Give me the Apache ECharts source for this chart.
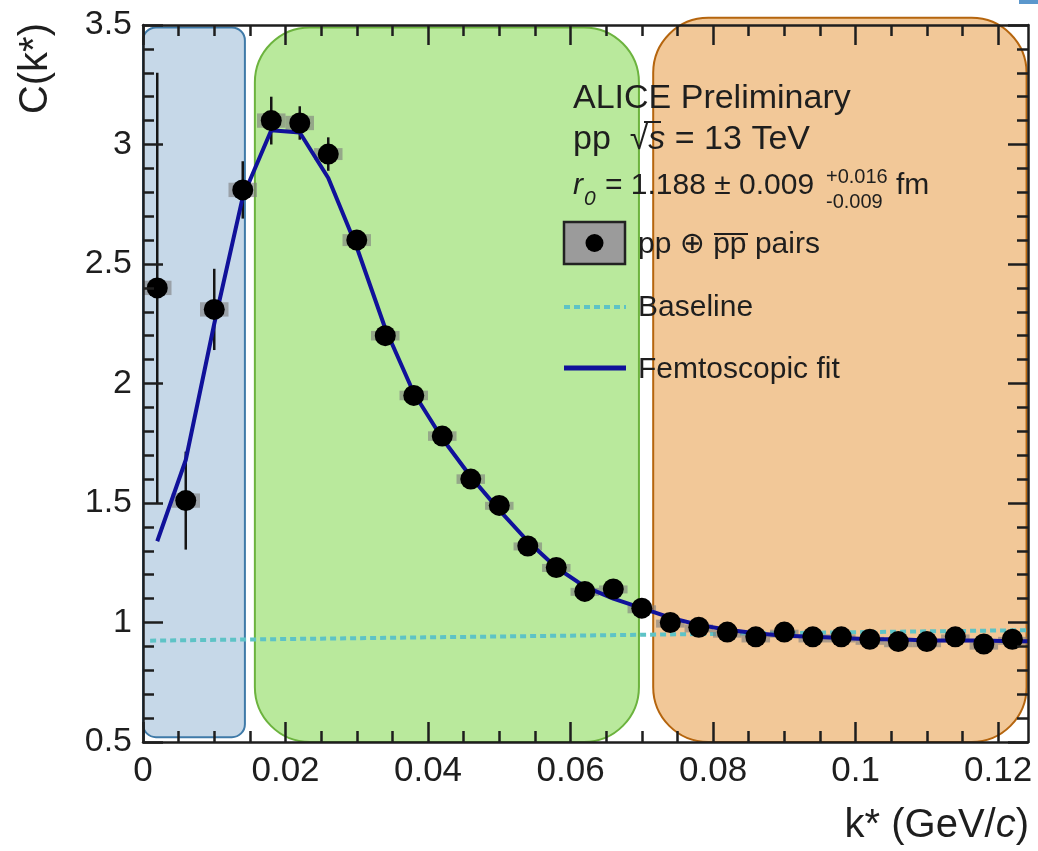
<!DOCTYPE html>
<html><head><meta charset="utf-8">
<script src="https://cdn.jsdelivr.net/npm/echarts@6/dist/echarts.min.js"></script>
<style>html,body{margin:0;padding:0;background:#fff}#chart{width:1038px;height:851px}</style>
</head><body><div id="chart"></div>
<script>
// ---------- data ----------
const kStar   = [0.002,0.006,0.010,0.014,0.018,0.022,0.026,0.030,0.034,0.038,0.042,0.046,0.050,0.054,0.058,0.062,0.066,0.070,0.074,0.078,0.082,0.086,0.090,0.094,0.098,0.102,0.106,0.110,0.114,0.118,0.122];
const cValues = [2.40,1.51,2.31,2.81,3.10,3.09,2.96,2.60,2.20,1.95,1.78,1.60,1.49,1.32,1.23,1.13,1.14,1.06,1.00,0.98,0.96,0.94,0.96,0.94,0.94,0.93,0.92,0.92,0.94,0.91,0.93];
const statErr = [0.90,0.205,0.17,0.12,0.10,0.07,0.07,0.04,0.03,0.025,0.02,0.02,0.02,0.015,0.015,0.015,0.015,0.01,0.01,0.01,0.01,0.01,0.01,0.01,0.01,0.01,0.01,0.01,0.01,0.01,0.01];
const sysErr  = [0.03,0.03,0.03,0.03,0.03,0.03,0.025,0.025,0.02,0.02,0.02,0.02,0.015,0.015,0.015,0.015,0.015,0.012,0.012,0.012,0.01,0.01,0.01,0.01,0.01,0.01,0.01,0.01,0.01,0.01,0.01];
const binHalfWidth = 0.002;
const fitK = [0.002,0.006,0.010,0.014,0.018,0.022,0.026,0.030,0.034,0.038,0.042,0.046,0.050,0.054,0.058,0.062,0.066,0.070,0.074,0.078,0.082,0.086,0.090,0.094,0.098,0.102,0.106,0.110,0.114,0.118,0.122,0.1242];
const fitC = [1.34,1.68,2.25,2.78,3.06,3.05,2.86,2.57,2.23,1.96,1.77,1.61,1.47,1.34,1.23,1.15,1.10,1.06,1.02,0.99,0.97,0.955,0.945,0.94,0.935,0.93,0.93,0.925,0.925,0.925,0.922,0.922];
const baselineK = [0.001, 0.1242];
const baselineC = [0.924, 0.968];
const regionK = [[0, 0.0143], [0.0157, 0.0696], [0.0716, 0.1240]];
const regionC = [[0.52, 3.49], [0.5, 3.49], [0.5, 3.53]];
const xMajorTicks = [0, 0.02, 0.04, 0.06, 0.08, 0.10, 0.12];
const xMinorTicks = [0.005,0.010,0.015,0.025,0.030,0.035,0.045,0.050,0.055,0.065,0.070,0.075,0.085,0.090,0.095,0.105,0.110,0.115];
const xRange = [0, 0.1242];
const yRange = [0.5, 3.5];
const yStep = 0.5;

// ---------- styles ----------
const FONT = '"Liberation Sans", "DejaVu Sans", Arial, sans-serif';
const INK = '#1e1e1e';
const regionStyles = [
  {fill:'#c6d8e8', stroke:'#3f7aa8', r:13},
  {fill:'#b9e99c', stroke:'#6cb33e', r:55},
  {fill:'#f2c898', stroke:'#b5650e', r:55}
];

const chart = echarts.init(document.getElementById('chart'), null, {renderer:'canvas'});

function xAxisCfg(pos, ticks, len, withLine, withLabel){
  return {
    type:'value', position:pos, min:xRange[0], max:xRange[1], z:10,
    axisLine:{show:withLine, onZero:false, lineStyle:{color:INK, width:2.5}},
    axisTick:{show:true, inside:true, length:len, customValues:ticks, lineStyle:{color:INK, width:2.5}},
    axisLabel:{show:withLabel, customValues:ticks, fontSize:35, fontFamily:FONT, color:INK, margin:12,
      formatter:v => v === 0 ? '0' : String(+v.toFixed(3))},
    splitLine:{show:false}, minorTick:{show:false}
  };
}
function yAxisCfg(pos, withLabel){
  return {
    type:'value', position:pos, min:yRange[0], max:yRange[1], interval:yStep, z:10,
    axisLine:{show:true, onZero:false, lineStyle:{color:INK, width:2.5}},
    axisTick:{show:true, inside:true, length:20, lineStyle:{color:INK, width:2.5}},
    minorTick:{show:true, splitNumber:5, length:11, lineStyle:{color:INK, width:2.5}},
    axisLabel:{show:withLabel, fontSize:34, fontFamily:FONT, color:INK, margin:11, padding:[6,0,0,0]},
    splitLine:{show:false}
  };
}

const option = {
  backgroundColor:'#ffffff',
  animation:false,
  grid:{left:143, right:10, top:25, bottom:109, containLabel:false},
  xAxis:[
    xAxisCfg('bottom', xMajorTicks, 20, true, true),
    xAxisCfg('bottom', xMinorTicks, 11, false, false),
    xAxisCfg('top', xMajorTicks, 20, true, false),
    xAxisCfg('top', xMinorTicks, 11, false, false)
  ],
  yAxis:[ yAxisCfg('left', true), yAxisCfg('right', false) ],
  series:[
    { // analysis regions
      type:'custom', z:1, clip:false, silent:true,
      data: regionK.map((r,i)=>[r[0], r[1], regionC[i][0], regionC[i][1]]),
      encode:{x:[0,1], y:[2,3]},
      renderItem:(p, api)=>{
        const a = api.coord([api.value(0), api.value(3)]);
        const b = api.coord([api.value(1), api.value(2)]);
        const s = regionStyles[p.dataIndex];
        return {type:'rect', shape:{x:a[0], y:a[1], width:b[0]-a[0], height:b[1]-a[1], r:s.r},
                style:{fill:s.fill, stroke:s.stroke, lineWidth:2}};
      }
    },
    { // baseline
      type:'line', z:2, symbol:'none', silent:true,
      data: baselineK.map((k,i)=>[k, baselineC[i]]),
      lineStyle:{color:'#5ec3c6', width:4, type:[6,4]}
    },
    { // systematic boxes
      type:'custom', z:3, clip:false, silent:true,
      data: kStar.map((k,i)=>[k, cValues[i], sysErr[i]]),
      encode:{x:0, y:1},
      renderItem:(p, api)=>{
        const a = api.coord([api.value(0)-binHalfWidth, api.value(1)+api.value(2)]);
        const b = api.coord([api.value(0)+binHalfWidth, api.value(1)-api.value(2)]);
        return {type:'rect', shape:{x:a[0], y:a[1], width:b[0]-a[0], height:Math.max(b[1]-a[1], 8)},
                style:{fill:'rgba(125,125,125,0.6)'}};
      }
    },
    { // statistical error bars
      type:'custom', z:4, clip:false, silent:true,
      data: kStar.map((k,i)=>[k, cValues[i], statErr[i]]),
      encode:{x:0, y:1},
      renderItem:(p, api)=>{
        const a = api.coord([api.value(0), api.value(1)-api.value(2)]);
        const b = api.coord([api.value(0), api.value(1)+api.value(2)]);
        return {type:'line', shape:{x1:a[0], y1:a[1], x2:b[0], y2:b[1]},
                style:{stroke:'#151515', lineWidth:2.5}};
      }
    },
    { // femtoscopic fit
      type:'line', z:5, symbol:'none', silent:true,
      data: fitK.map((k,i)=>[k, fitC[i]]),
      lineStyle:{color:'#10119a', width:4}
    },
    { // data points
      type:'scatter', z:6, symbol:'circle', symbolSize:21, silent:true,
      data: kStar.map((k,i)=>[k, cValues[i]]),
      itemStyle:{color:'#000000', opacity:1}
    }
  ],
  graphic:[
    // axis titles
    {type:'text', z:30, x:1029, y:826, style:{text:'k* (GeV/{i|c})', font:'40px '+FONT, fill:INK, align:'right', verticalAlign:'middle',
      rich:{i:{fontStyle:'italic', fontSize:40, fontFamily:FONT, fill:INK}}}},
    {type:'text', z:30, x:36, y:23, rotation:Math.PI/2, style:{text:'C(k*)', font:'40px '+FONT, fill:INK, align:'right', verticalAlign:'middle'}},
    // header
    {type:'text', z:30, x:573, y:99, style:{text:'ALICE Preliminary', font:'34px '+FONT, fill:INK, align:'left', verticalAlign:'middle'}},
    {type:'text', z:30, x:573, y:140, style:{text:'pp  √{i|s} = 13 TeV', font:'34px '+FONT, fill:INK, align:'left', verticalAlign:'middle',
      rich:{i:{fontStyle:'italic', fontSize:34, fontFamily:FONT, fill:INK}}}},
    {type:'line', z:30, shape:{x1:644, y1:122, x2:661, y2:122}, style:{stroke:INK, lineWidth:2}},
    {type:'text', z:30, x:573, y:186, style:{text:'r', font:'italic 30px '+FONT, fill:INK, align:'left', verticalAlign:'middle'}},
    {type:'text', z:30, x:584, y:199, style:{text:'0', font:'italic 21px '+FONT, fill:INK, align:'left', verticalAlign:'middle'}},
    {type:'text', z:30, x:605, y:186, style:{text:'= 1.188 ± 0.009', font:'30px '+FONT, fill:INK, align:'left', verticalAlign:'middle'}},
    {type:'text', z:30, x:826, y:177, style:{text:'+0.016', font:'20px '+FONT, fill:INK, align:'left', verticalAlign:'middle'}},
    {type:'text', z:30, x:826, y:202, style:{text:'-0.009', font:'20px '+FONT, fill:INK, align:'left', verticalAlign:'middle'}},
    {type:'text', z:30, x:896, y:186, style:{text:'fm', font:'30px '+FONT, fill:INK, align:'left', verticalAlign:'middle'}},
    // legend
    {type:'rect', z:30, shape:{x:564, y:222, width:61, height:42}, style:{fill:'#9b9b9b', stroke:'#222', lineWidth:2.5}},
    {type:'circle', z:31, shape:{cx:594.5, cy:243, r:9}, style:{fill:'#000'}},
    {type:'text', z:30, x:638, y:245, style:{text:'pp ⊕ pp pairs', font:'30px '+FONT, fill:INK, align:'left', verticalAlign:'middle'}},
    {type:'line', z:30, shape:{x1:714, y1:234, x2:748, y2:234}, style:{stroke:INK, lineWidth:2}},
    {type:'line', z:30, shape:{x1:564, y1:307, x2:626, y2:307}, style:{stroke:'#5ec3c6', lineWidth:4, lineDash:[6,4]}},
    {type:'text', z:30, x:638, y:308, style:{text:'Baseline', font:'30px '+FONT, fill:INK, align:'left', verticalAlign:'middle'}},
    {type:'line', z:30, shape:{x1:564, y1:368, x2:626, y2:368}, style:{stroke:'#10119a', lineWidth:5}},
    {type:'text', z:30, x:638, y:370, style:{text:'Femtoscopic fit', font:'30px '+FONT, fill:INK, align:'left', verticalAlign:'middle'}},
    // small cropped mark in the top-right corner of the original image
    {type:'rect', z:30, shape:{x:1019, y:0, width:19, height:4}, style:{fill:'#5b97cc'}}
  ]
};
chart.setOption(option);
</script>
</body></html>
